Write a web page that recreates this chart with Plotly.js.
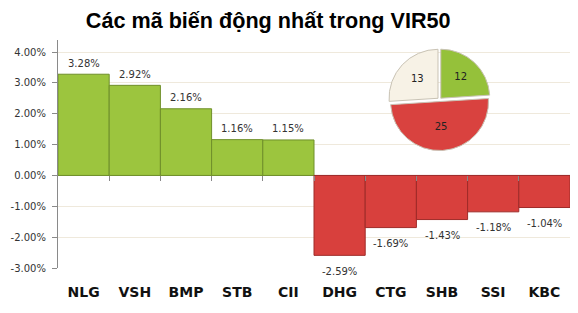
<!DOCTYPE html>
<html><head><meta charset="utf-8">
<script src="https://cdn.plot.ly/plotly-3.0.1.min.js"></script>
<style>body{margin:0;background:#fff}#c{width:578px;height:313px}</style>
</head><body><div id="c"></div>
<script>
const categories = ["NLG","VSH","BMP","STB","CII","DHG","CTG","SHB","SSI","KBC"];
const changes = [3.28,2.92,2.16,1.16,1.15,-2.59,-1.69,-1.43,-1.18,-1.04];
const pieLabels = ["Tăng","Giảm","Đứng giá"];
const pieValues = [12,25,13];
const yTicks = [-3,-2,-1,0,1,2,3,4];

const barColors = changes.map(v => v >= 0 ? "#9cc53e" : "#d8403d");
const barLines = changes.map(v => v >= 0 ? "#6f8f2a" : "#9e2a28");

const bar = {
  type: "bar", x: categories.map((c,i)=>i), y: changes,
  marker: {color: barColors, line: {color: barLines, width: 1}},
  hoverinfo: "none", showlegend: false
};
const pie = {
  type: "pie", values: pieValues, labels: pieLabels, sort: false,
  direction: "clockwise", rotation: 0,
  pull: [0.04,0.04,0.04],
  marker: {colors: ["#95c13a","#d9423f","#f7f2e6"], line: {color: "#c9c3b5", width: 1}},
  textinfo: "value", textposition: "inside", insidetextorientation: "horizontal",
  textfont: {family: "DejaVu Sans", size: 10, color: "#222"},
  domain: {x: [0.645, 0.845], y: [0.515, 0.962]},
  showlegend: false, hoverinfo: "none"
};
const annotations = changes.map((v,i) => ({
  x: i, y: v, xref: "x", yref: "y", showarrow: false,
  text: v.toFixed(2) + "%", yanchor: "middle", yshift: v >= 0 ? 11 : -16,
  font: {family: "DejaVu Sans", size: 10, color: "#333"}
}));
const layout = {
  width: 578, height: 313,
  margin: {l: 58, r: 8, t: 40, b: 45},
  paper_bgcolor: "#fff", plot_bgcolor: "#fff",
  title: {text: "Các mã biến động nhất trong VIR50", x: 0.464, xanchor: "center", y: 0.935, yanchor: "middle",
    font: {family: "Liberation Sans", size: 21.6, color: "#000", weight: "bold"}},
  bargap: 0,
  annotations: annotations,
  xaxis: {range: [-0.5, 9.5], tickvals: categories.map((c,i)=>i), ticktext: categories,
    showgrid: false, zeroline: false, showline: false, ticks: "", ticklabelstandoff: 14,
    tickfont: {family: "DejaVu Sans", size: 14, color: "#111", weight: "bold"}},
  xaxis2: {overlaying: "x", anchor: "free", position: 0.408, range: [-0.5, 9.5],
    tickvals: [0.5,1.5,2.5,3.5,4.5,5.5,6.5,7.5,8.5], showticklabels: false,
    ticks: "outside", ticklen: 5, tickcolor: "#888", showline: false, showgrid: false, zeroline: false},
  yaxis: {range: [-3, 4.389], tickvals: yTicks, ticktext: yTicks.map(v => v.toFixed(2) + "%"),
    showgrid: true, gridcolor: "#efe9dc", gridwidth: 1,
    zeroline: true, zerolinecolor: "#8a8a8a", zerolinewidth: 1,
    showline: true, linecolor: "#8a8a8a", linewidth: 1,
    ticks: "outside", ticklen: 5, tickcolor: "#8a8a8a", ticklabelstandoff: 4,
    tickfont: {family: "DejaVu Sans", size: 10, color: "#333"}}
};
Plotly.newPlot("c", [bar, pie, {type:"scatter", x:[], y:[], xaxis:"x2", showlegend:false, hoverinfo:"none"}], layout, {staticPlot: true});
</script></body></html>
